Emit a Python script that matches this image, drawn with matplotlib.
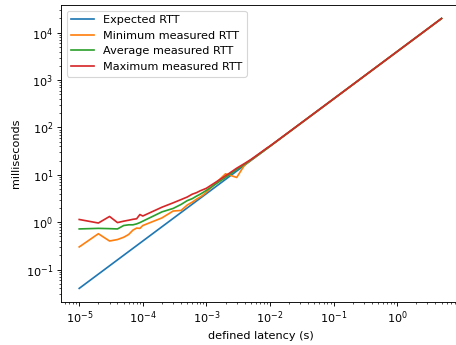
import matplotlib
matplotlib.use('Agg')
import matplotlib.pyplot as plt

# defined latency in seconds
latency = [1e-5, 2e-5, 3e-5, 4e-5, 5e-5, 6e-5, 7e-5, 8e-5, 9e-5,
           1e-4, 2e-4, 3e-4, 4e-4, 5e-4, 6e-4, 7e-4, 8e-4, 9e-4,
           1e-3, 2e-3, 3e-3, 4e-3, 5e-3, 6e-3, 7e-3, 8e-3, 9e-3,
           1e-2, 2e-2, 5e-2, 1e-1, 2e-1, 5e-1, 1, 2, 5]

# round trip times in milliseconds
expected_rtt = [0.04, 0.08, 0.12, 0.16, 0.2, 0.24, 0.28, 0.32, 0.36,
                0.4, 0.8, 1.2, 1.6, 2.0, 2.4, 2.8, 3.2, 3.6,
                4, 8, 12, 16, 20, 24, 28, 32, 36,
                40, 80, 200, 400, 800, 2000, 4000, 8000, 20000]
min_rtt = [0.30, 0.57, 0.40, 0.43, 0.48, 0.55, 0.68, 0.75, 0.74,
           0.85, 1.23, 1.72, 1.77, 2.3, 2.65, 3.06, 3.4, 3.8,
           4.3, 10.5, 8.8, 16.2, 20.3, 24.2, 28.2, 32.1, 36.1,
           40, 80, 200, 400, 800, 2000, 4000, 8000, 20000]
avg_rtt = [0.72, 0.74, 0.73, 0.72, 0.85, 0.88, 0.88, 0.92, 0.98,
           1.05, 1.65, 1.95, 2.37, 2.85, 3.14, 3.55, 3.9, 4.3,
           4.7, 8.8, 13, 16.8, 20.6, 24.5, 28.4, 32.3, 36.2,
           40.2, 80.2, 200.2, 400, 800, 2000, 4000, 8000, 20000]
max_rtt = [1.14, 0.96, 1.32, 0.98, 1.05, 1.1, 1.15, 1.18, 1.45,
           1.35, 2.07, 2.56, 3.0, 3.4, 3.9, 4.2, 4.6, 4.9,
           5.2, 9.5, 13.8, 17.4, 21, 25, 29, 33, 37,
           40.5, 80.5, 200.5, 400, 800, 2000, 4000, 8000, 20000]

# smaller dpi so text and lines come out at the reference's scale
dpi = 81
fig = plt.figure(figsize=(456 / dpi, 345 / dpi), dpi=dpi)
ax = fig.add_axes([0.134, 0.125, 0.874, 0.8605])

ax.plot(latency, expected_rtt, label='Expected RTT')
ax.plot(latency, min_rtt, label='Minimum measured RTT')
ax.plot(latency, avg_rtt, label='Average measured RTT')
ax.plot(latency, max_rtt, label='Maximum measured RTT')
ax.set_xscale('log')
ax.set_yscale('log')
ax.set_xlabel('defined latency (s)')
ax.set_ylabel('milliseconds')
ax.legend(loc='upper left')

fig.savefig('out.png', dpi=dpi)
